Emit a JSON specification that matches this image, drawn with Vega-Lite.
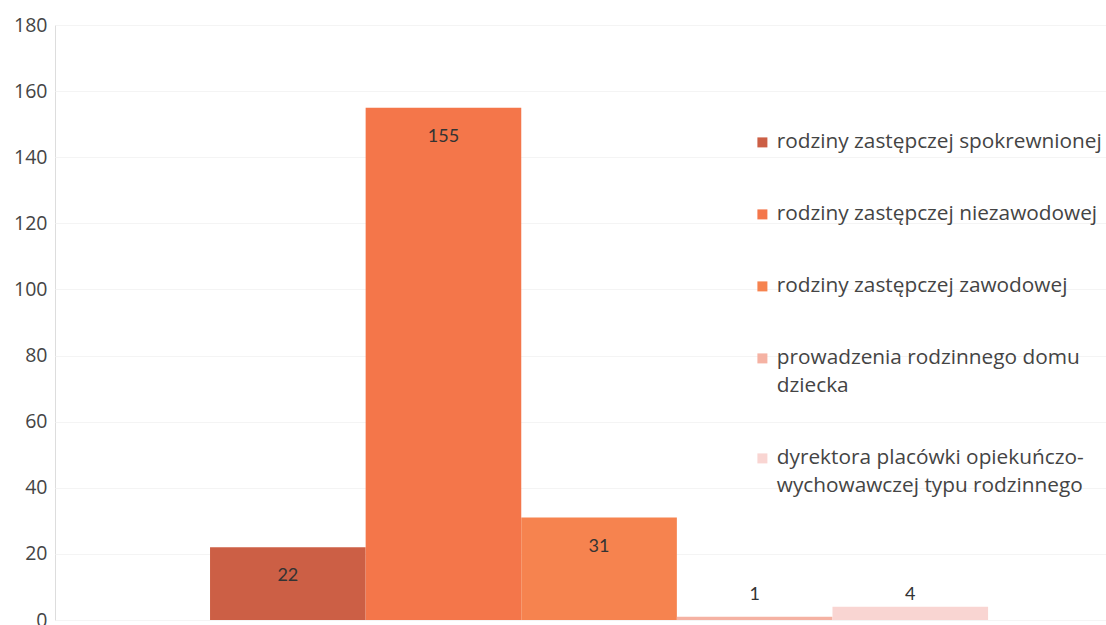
{
  "$schema": "https://vega.github.io/schema/vega-lite/v6.json",
  "autosize": "none",
  "padding": {"left": 55, "top": 25, "right": 0, "bottom": 5},
  "width": 1051,
  "height": 595,
  "background": "white",
  "config": {"style": {"guide-label": {"lineHeight": 28}}},
  "data": {
    "values": [
      {"series": "rodziny zastępczej spokrewnionej", "value": 22},
      {"series": "rodziny zastępczej niezawodowej", "value": 155},
      {"series": "rodziny zastępczej zawodowej", "value": 31},
      {"series": "prowadzenia rodzinnego domu dziecka", "value": 1},
      {"series": "dyrektora placówki opiekuńczo-wychowawczej typu rodzinnego", "value": 4}
    ]
  },
  "encoding": {
    "x": {
      "field": "series",
      "type": "nominal",
      "sort": null,
      "scale": {"paddingInner": 0, "paddingOuter": 0.877, "align": 0.568},
      "axis": null
    }
  },
  "layer": [
    {
      "mark": {"type": "bar"},
      "encoding": {
        "y": {
          "field": "value",
          "type": "quantitative",
          "scale": {"domain": [0, 180], "nice": false},
          "axis": {
            "title": null,
            "values": [0, 20, 40, 60, 80, 100, 120, 140, 160, 180],
            "domain": false,
            "ticks": false,
            "labelPadding": 8,
            "labelFont": "Open Sans",
            "labelFontSize": 19.5,
            "labelColor": "#444444",
            "gridColor": "#f4f4f4",
            "gridWidth": 1
          }
        },
        "color": {
          "field": "series",
          "type": "nominal",
          "sort": null,
          "scale": {
            "range": ["#cc5f45", "#f4764a", "#f6834f", "#f5b2a3", "#f9d5d2"]
          },
          "legend": {
            "title": null,
            "orient": "none",
            "legendX": 697,
            "legendY": 107,
            "symbolType": "square",
            "symbolSize": 100,
            "symbolStrokeWidth": 0,
            "labelFont": "Open Sans",
            "labelFontSize": 20.8,
            "labelColor": "#444444",
            "labelLimit": 420,
            "rowPadding": 50,
            "labelOffset": 4,
            "labelExpr": "datum.label == 'prowadzenia rodzinnego domu dziecka' ? ['prowadzenia rodzinnego domu', 'dziecka'] : datum.label == 'dyrektora placówki opiekuńczo-wychowawczej typu rodzinnego' ? ['dyrektora placówki opiekuńczo-', 'wychowawczej typu rodzinnego'] : datum.label"
          }
        }
      }
    },
    {
      "transform": [{"filter": "datum.value >= 10"}],
      "mark": {"type": "text", "baseline": "middle", "dy": 29, "font": "Lato", "fontSize": 18, "color": "#333333"},
      "encoding": {
        "y": {"field": "value", "type": "quantitative"},
        "text": {"field": "value", "type": "quantitative"}
      }
    },
    {
      "transform": [{"filter": "datum.value < 10"}],
      "mark": {"type": "text", "baseline": "middle", "font": "Lato", "fontSize": 18, "color": "#333333"},
      "encoding": {
        "y": {"datum": 7.7, "type": "quantitative"},
        "text": {"field": "value", "type": "quantitative"}
      }
    }
  ]
}
